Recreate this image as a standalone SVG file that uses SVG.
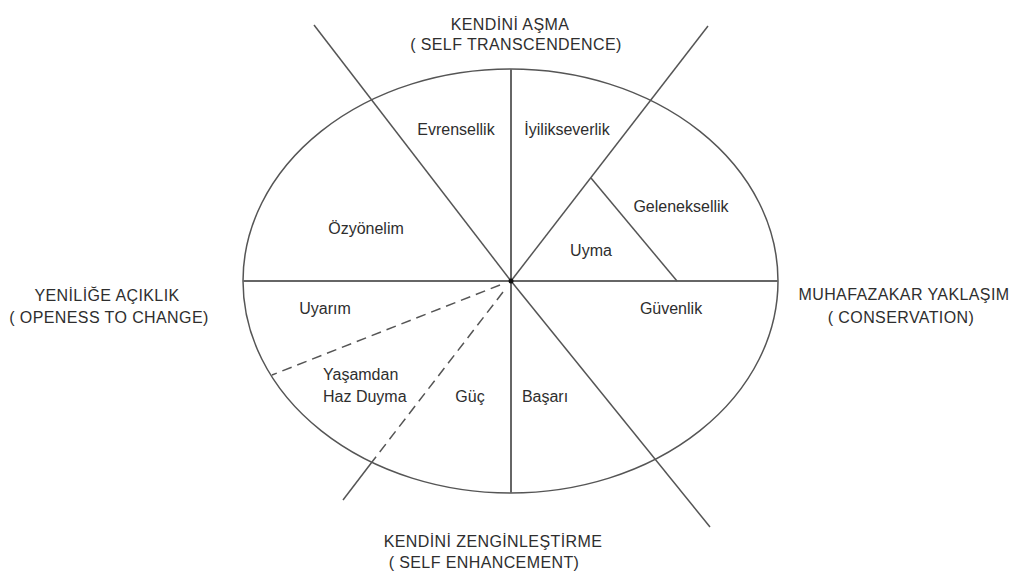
<svg xmlns="http://www.w3.org/2000/svg" width="1014" height="574" viewBox="0 0 1014 574">
<style>
.ln{stroke:#555;stroke-width:1.5;fill:none}
.ax{stroke:#666;stroke-width:2;fill:none}
.ds{stroke:#555;stroke-width:1.5;fill:none;stroke-dasharray:10 6}
.t{font-family:"Liberation Sans",Arial,sans-serif;font-size:16px;fill:#2e2e2e}
.c{text-anchor:middle}
.h{letter-spacing:0.4px}
</style>
<rect width="1014" height="574" fill="#fff"/>
<g id="wheel">
<ellipse cx="510.5" cy="281" rx="267.5" ry="212" class="ln"/>
</g>
<g id="connectors">
<line x1="243" y1="281" x2="778" y2="281" class="ax"/>
<line x1="511" y1="69" x2="511" y2="493" class="ax"/>
<line x1="314" y1="25" x2="511" y2="281" class="ln"/>
<line x1="511" y1="281" x2="710" y2="527" class="ln"/>
<line x1="708" y1="26" x2="511" y2="281" class="ln"/>
<line x1="503" y1="292" x2="372" y2="462" class="ds"/>
<line x1="372" y1="462" x2="343" y2="500" class="ln"/>
<line x1="500" y1="285" x2="272" y2="375" class="ds"/>
<line x1="591" y1="178" x2="677" y2="281" class="ln"/>
<circle cx="511" cy="281" r="2.5" fill="#111"/>
</g>
<g id="top-label"><text class="t c h" x="510" y="30">KENDİNİ AŞMA</text><text class="t c h" x="516" y="50">( SELF TRANSCENDENCE)</text></g>
<g id="left-label"><text class="t c h" x="107" y="301">YENİLİĞE AÇIKLIK</text><text class="t c h" x="109" y="323">( OPENESS TO CHANGE)</text></g>
<g id="right-label"><text class="t c h" x="904" y="300">MUHAFAZAKAR YAKLAŞIM</text><text class="t c h" x="901" y="323">( CONSERVATION)</text></g>
<g id="bottom-label"><text class="t c h" x="493" y="547">KENDİNİ ZENGİNLEŞTİRME</text><text class="t c h" x="484" y="568">( SELF ENHANCEMENT)</text></g>
<g id="evrensellik"><text class="t c" x="456" y="135">Evrensellik</text></g>
<g id="iyilikseverlik"><text class="t c" x="567" y="135">İyilikseverlik</text></g>
<g id="geleneksellik"><text class="t c" x="681" y="212">Geleneksellik</text></g>
<g id="uyma"><text class="t c" x="591" y="256">Uyma</text></g>
<g id="ozyonelim"><text class="t c" x="366" y="234">Özyönelim</text></g>
<g id="uyarim"><text class="t c" x="325" y="314">Uyarım</text></g>
<g id="guvenlik"><text class="t c" x="671" y="314">Güvenlik</text></g>
<g id="yasamdan"><text class="t" x="323" y="380">Yaşamdan</text><text class="t" x="323" y="402">Haz Duyma</text></g>
<g id="guc"><text class="t c" x="470" y="402">Güç</text></g>
<g id="basari"><text class="t c" x="545" y="402">Başarı</text></g>
</svg>
